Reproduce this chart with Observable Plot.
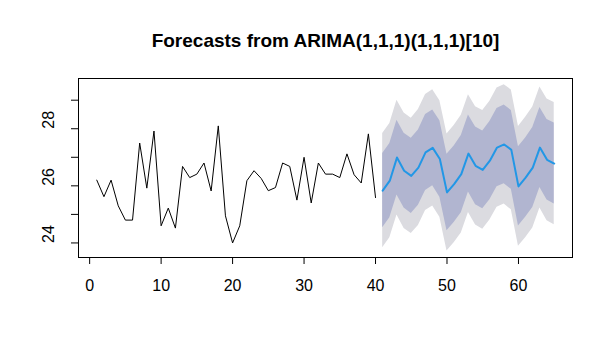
<!DOCTYPE html>
<html><head><meta charset="utf-8">
<script src="https://cdn.jsdelivr.net/npm/d3@7"></script>
<script src="https://cdn.jsdelivr.net/npm/@observablehq/plot@0.6"></script>
<style>body{margin:0;background:#fff} svg{display:block}</style>
</head><body><div id="chart"></div>
<script>
const title = "Forecasts from ARIMA(1,1,1)(1,1,1)[10]";
const obsStart = 1;
const observed = [26.2,25.62,26.2,25.3,24.8,24.8,27.5,25.92,27.92,24.6,25.22,24.52,26.68,26.29,26.41,26.8,25.82,28.1,24.95,24.0,24.6,26.18,26.53,26.26,25.83,25.94,26.8,26.68,25.5,27.0,25.4,26.8,26.41,26.41,26.29,27.12,26.39,26.1,27.82,25.59];
const fcStart = 41;
const fcMean = [25.83,26.18,26.99,26.53,26.35,26.64,27.17,27.33,26.94,25.77,26.06,26.41,27.13,26.70,26.56,26.88,27.34,27.45,27.26,25.98,26.29,26.64,27.34,26.91,26.78];
const hi80 = [27.13,27.48,28.30,27.84,27.67,27.96,28.50,28.66,28.28,27.11,27.40,27.76,28.48,28.06,27.92,28.25,28.71,28.83,28.64,27.37,27.68,28.04,28.74,28.32,28.20];
const lo80 = [24.53,24.88,25.68,25.22,25.03,25.32,25.84,26.00,25.60,24.43,24.72,25.06,25.78,25.34,25.20,25.51,25.97,26.07,25.88,24.59,24.90,25.24,25.94,25.50,25.36];
const hi95 = [27.83,28.18,29.00,28.55,28.37,28.67,29.20,29.37,28.98,27.82,28.11,28.47,29.19,28.77,28.64,28.96,29.43,29.54,29.36,28.08,28.40,28.76,29.46,29.04,28.92];
const lo95 = [23.83,24.18,24.98,24.51,24.33,24.61,25.14,25.29,24.90,23.72,24.01,24.35,25.07,24.63,24.48,24.80,25.25,25.36,25.16,23.88,24.18,24.52,25.22,24.78,24.64];
const xTicks = [0,10,20,30,40,50,60];
const yTicks = [24,25,26,27,28,29];
const yLabels = [24,26,28];

const obs = observed.map((v,i)=>({t: obsStart+i, v}));
const fc = fcMean.map((m,i)=>({t: fcStart+i, mean:m, hi80:hi80[i], lo80:lo80[i], hi95:hi95[i], lo95:lo95[i]}));

const chart = Plot.plot({
  width: 612, height: 355,
  marginLeft: 78, marginRight: 40, marginTop: 78, marginBottom: 98,
  x: {domain: [-1.56, 67.56]},
  y: {domain: [23.49, 29.76]},
  style: {fontFamily: "'Liberation Sans', Arial, sans-serif", fontSize: "16px", background: "white", color: "black"},
  marks: [
    Plot.areaY(fc, {x: "t", y1: "lo95", y2: "hi95", fill: "#DBDBE0"}),
    Plot.areaY(fc, {x: "t", y1: "lo80", y2: "hi80", fill: "#B1B5D0"}),
    Plot.line(obs, {x: "t", y: "v", stroke: "black", strokeWidth: 1}),
    Plot.line(fc, {x: "t", y: "mean", stroke: "#2297E6", strokeWidth: 2}),
    Plot.frame({stroke: "black"}),
    Plot.axisX({ticks: xTicks, tickSize: 7, tickPadding: 15, fontSize: 16, label: null}),
    Plot.axisY({ticks: yTicks, tickSize: 7, tickFormat: () => "", label: null}),
    Plot.text(yLabels, {y: d => d, text: d => String(d), frameAnchor: "left", dx: -30, rotate: -90, fontSize: 16}),
    Plot.text([title], {text: d => d, frameAnchor: "top", lineAnchor: "middle", dy: -37.5, fontWeight: "bold", fontSize: 19})
  ]
});
document.getElementById("chart").append(chart);
</script>
</body></html>
